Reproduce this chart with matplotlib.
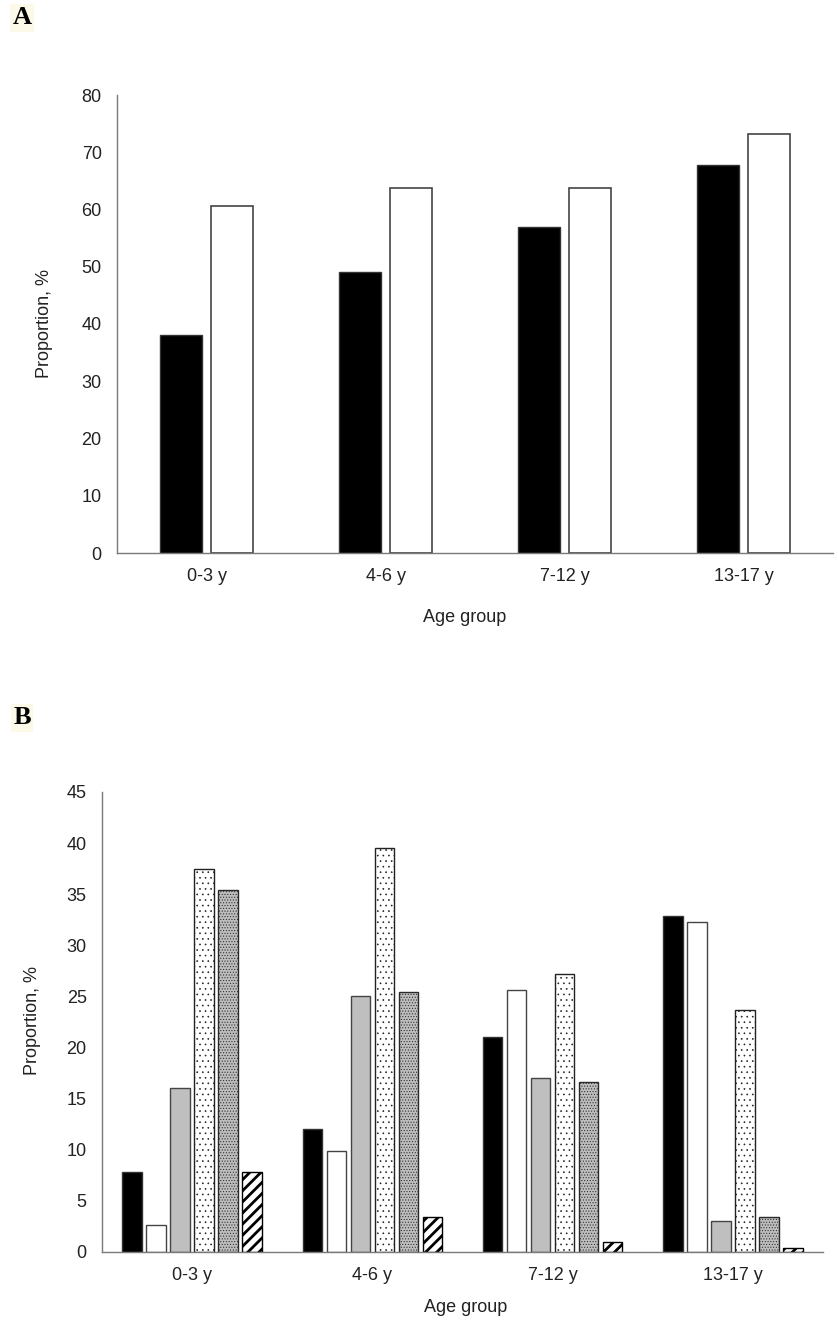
import matplotlib
matplotlib.use("Agg")
import matplotlib.pyplot as plt
import numpy as np

plt.rcParams['font.family'] = ['Liberation Sans', 'DejaVu Sans']

# ---- data ----
age_groups = ["0-3 y", "4-6 y", "7-12 y", "13-17 y"]

a_black = [38.1, 49.0, 57.0, 67.7]
a_white = [60.6, 63.8, 63.7, 73.2]

b_black = [7.8, 12.0, 21.0, 32.9]
b_white = [2.6, 9.9, 25.6, 32.3]
b_gray = [16.0, 25.0, 17.0, 3.0]
b_dotted = [37.5, 39.5, 27.2, 23.7]
b_dense = [35.4, 25.4, 16.6, 3.4]
b_hatched = [7.8, 3.4, 1.0, 0.4]

W, H = 838, 1321
FS = 13
fig = plt.figure(figsize=(W / 100, H / 100), dpi=100)


def style_axes(ax):
    for s in ['top', 'right']:
        ax.spines[s].set_visible(False)
    for s in ['left', 'bottom']:
        ax.spines[s].set_color('#7a7a7a')
        ax.spines[s].set_linewidth(1.0)
    ax.tick_params(axis='both', length=0, labelsize=FS, colors='#222222')
    ax.tick_params(axis='y', pad=11)
    ax.tick_params(axis='x', pad=11)


# ---- Panel A ----
axA = fig.add_axes([117 / W, (H - 553) / H, 716 / W, 458 / H])
x = np.arange(len(age_groups))
pitchA = 0.29
wA = 0.235
axA.bar(x - pitchA / 2, a_black, width=wA, color='black', edgecolor='#333333', linewidth=1.0)
axA.bar(x + pitchA / 2, a_white, width=wA, color='white', edgecolor='#444444', linewidth=1.2)
axA.set_xlim(-0.5, 3.5)
axA.set_ylim(0, 80)
axA.set_yticks(range(0, 81, 10))
axA.set_xticks(x)
axA.set_xticklabels(age_groups)
style_axes(axA)
axA.set_ylabel("Proportion, %", fontsize=FS, color='#222222')
axA.set_xlabel("Age group", fontsize=FS, color='#222222')
axA.yaxis.set_label_coords(-0.090, 0.5)
axA.xaxis.set_label_coords(0.486, -0.122)

# ---- Panel B ----
axB = fig.add_axes([102 / W, (H - 1252) / H, 721 / W, 460 / H])
pitchB = 0.133
wB = 0.108
series = [
    (b_black, dict(color='black', edgecolor='#333333'), 1.0),
    (b_white, dict(color='white', edgecolor='#444444'), 1.0),
    (b_gray, dict(color='#bfbfbf', edgecolor='#444444'), 1.0),
    (b_dotted, dict(color='white', edgecolor='#222222', hatch='...'), 0.45),
    (b_dense, dict(color='#bdbdbd', edgecolor='#2a2a2a', hatch='......'), 0.45),
    (b_hatched, dict(color='white', edgecolor='black', hatch='///'), 2.0),
]
for i, (vals, kw, hlw) in enumerate(series):
    with plt.rc_context({'hatch.linewidth': hlw}):
        axB.bar(x + (i - 2.5) * pitchB, vals, width=wB, linewidth=1.0, **kw)
axB.set_xlim(-0.5, 3.5)
axB.set_ylim(0, 45)
axB.set_yticks(range(0, 46, 5))
axB.set_xticks(x)
axB.set_xticklabels(age_groups)
style_axes(axB)
axB.set_ylabel("Proportion, %", fontsize=FS, color='#222222')
axB.set_xlabel("Age group", fontsize=FS, color='#222222')
axB.yaxis.set_label_coords(-0.085, 0.504)
axB.xaxis.set_label_coords(0.505, -0.102)

# ---- panel letters ----
for lab, yy in [("A", 18), ("B", 718)]:
    fig.text(22 / W, 1 - yy / H, lab, family=['Liberation Serif', 'DejaVu Serif'],
             fontweight='bold', fontsize=19, ha='center', va='center',
             bbox=dict(boxstyle='square,pad=0.1', facecolor='#fdf9e8', edgecolor='none'))

fig.savefig("out.png", dpi=100)
